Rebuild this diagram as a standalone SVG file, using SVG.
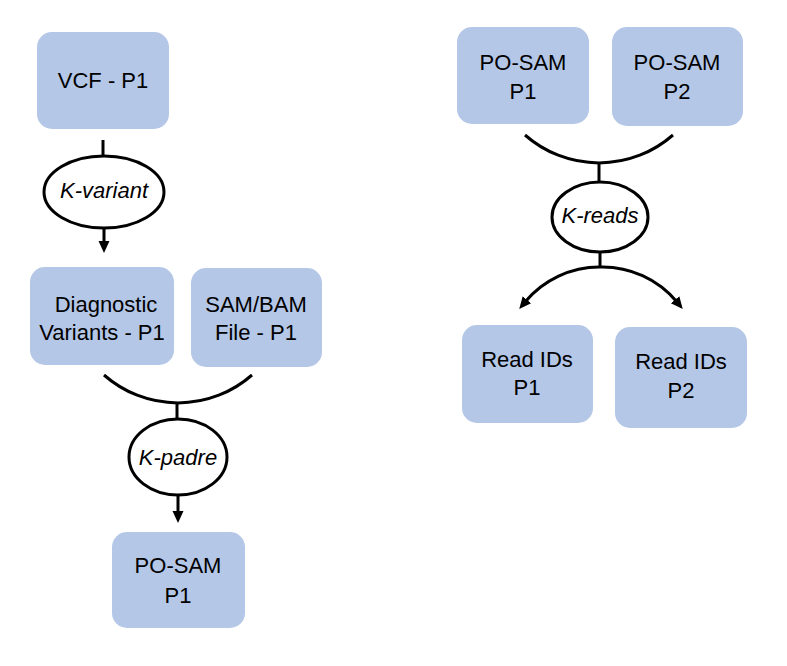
<svg xmlns="http://www.w3.org/2000/svg" width="787" height="666" viewBox="0 0 787 666">
<style>
.box{fill:#B4C7E7;}
.t{font-family:"Liberation Sans",Arial,sans-serif;font-size:22px;fill:#000;text-anchor:middle;}
.k{font-family:"Liberation Sans",Arial,sans-serif;font-size:22px;font-style:italic;fill:#000;text-anchor:middle;}
.op{fill:#fff;stroke:#000;stroke-width:3;}
.c{fill:none;stroke:#000;stroke-width:3;}
</style>
<defs>
<marker id="arr" markerUnits="userSpaceOnUse" markerWidth="12" markerHeight="12" refX="3" refY="6" orient="auto">
<path d="M0,0.5 L12,6 L0,11.5 z" fill="#000"/>
</marker>
</defs>
<rect width="787" height="666" fill="#fff"/>
<g id="connectors">
<path class="c" d="M103,140 L103,156"/>
<path class="c" d="M104,229 L104,244" marker-end="url(#arr)"/>
<path class="c" d="M104,375 A112,112 0 0 0 252,375"/>
<path class="c" d="M177,403 L177,419"/>
<path class="c" d="M178,496 L178,514" marker-end="url(#arr)"/>
<path class="c" d="M525,135 A112,112 0 0 0 673,135"/>
<path class="c" d="M599,163 L599,182"/>
<path class="c" d="M600,252 L600,268"/>
<path class="c" d="M600,267 A97,97 0 0 0 525,302" marker-end="url(#arr)"/>
<path class="c" d="M600,267 A97,97 0 0 1 677,302" marker-end="url(#arr)"/>
</g>
<g id="vcf-p1">
<rect class="box" x="37" y="32" width="132" height="97" rx="15"/>
<text class="t" x="103" y="88">VCF - P1</text>
</g>
<g id="k-variant">
<ellipse class="op" cx="104" cy="192" rx="60" ry="36"/>
<text class="k" x="104" y="198">K-variant</text>
</g>
<g id="diagnostic-variants">
<rect class="box" x="30" y="267" width="144" height="98" rx="15"/>
<text class="t" x="106" y="312">Diagnostic</text>
<text class="t" x="102" y="340">Variants - P1</text>
</g>
<g id="sam-bam">
<rect class="box" x="191" y="268" width="131" height="99" rx="15"/>
<text class="t" x="256" y="312">SAM/BAM</text>
<text class="t" x="256" y="340">File - P1</text>
</g>
<g id="k-padre">
<ellipse class="op" cx="178" cy="457" rx="49" ry="38"/>
<text class="k" x="178" y="465">K-padre</text>
</g>
<g id="po-sam-p1-out">
<rect class="box" x="112" y="532" width="133" height="96" rx="15"/>
<text class="t" x="178" y="573">PO-SAM</text>
<text class="t" x="178" y="603">P1</text>
</g>
<g id="po-sam-p1">
<rect class="box" x="457" y="27" width="132" height="97" rx="15"/>
<text class="t" x="523" y="70">PO-SAM</text>
<text class="t" x="523" y="99">P1</text>
</g>
<g id="po-sam-p2">
<rect class="box" x="612" y="27" width="131" height="99" rx="15"/>
<text class="t" x="677" y="70">PO-SAM</text>
<text class="t" x="677" y="99">P2</text>
</g>
<g id="k-reads">
<ellipse class="op" cx="600" cy="217" rx="48" ry="35"/>
<text class="k" x="600" y="223">K-reads</text>
</g>
<g id="read-ids-p1">
<rect class="box" x="462" y="325" width="131" height="98" rx="15"/>
<text class="t" x="527" y="367">Read IDs</text>
<text class="t" x="527" y="395">P1</text>
</g>
<g id="read-ids-p2">
<rect class="box" x="615" y="327" width="132" height="101" rx="15"/>
<text class="t" x="681" y="369">Read IDs</text>
<text class="t" x="681" y="398">P2</text>
</g>
</svg>
